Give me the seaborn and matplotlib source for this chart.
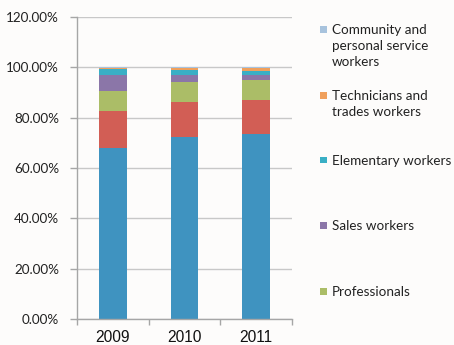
import matplotlib
matplotlib.use("Agg")
import matplotlib.pyplot as plt
from matplotlib.patches import Rectangle
from matplotlib.ticker import FuncFormatter, FixedLocator
import numpy as np
import pandas as pd
import seaborn as sns

years = ["2009", "2010", "2011"]
# Stack order bottom -> top
series_names = [
    "Series A",
    "Series B",
    "Professionals",
    "Sales workers",
    "Elementary workers",
    "Technicians and trades workers",
    "Community and personal service workers",
]
series_a = [68.1, 72.5, 73.7]
series_b = [14.7, 13.9, 13.3]
professionals = [7.8, 7.7, 7.9]
sales = [6.2, 2.7, 2.1]
elementary = [2.4, 2.2, 1.7]
technicians = [0.6, 0.8, 1.1]
community = [0.2, 0.2, 0.2]
colors = ["#3f93c0", "#d25e55", "#abbd67", "#8b76a8", "#3aafc5", "#f0a05c", "#a8c3dd"]

legend_labels = [
    "Community and\npersonal service\nworkers",
    "Technicians and\ntrades workers",
    "Elementary workers",
    "Sales workers",
    "Professionals",
]
legend_colors = ["#a8c3dd", "#f0a05c", "#3aafc5", "#8b76a8", "#abbd67"]

values = [series_a, series_b, professionals, sales, elementary, technicians, community]
cum = np.cumsum(np.array(values), axis=0)

W, H = 454, 345
fig = plt.figure(figsize=(W / 100, H / 100), dpi=100)
bg = "#fdfcfb"
fig.patch.set_facecolor(bg)
ax = fig.add_axes([77 / W, 1 - 319 / H, (292 - 77) / W, (319 - 17) / H])
ax.set_facecolor(bg)

# draw cumulative totals from top down so each segment shows
for i in range(len(values) - 1, -1, -1):
    df = pd.DataFrame({"year": years, "value": cum[i]})
    sns.barplot(data=df, x="year", y="value", color=colors[i], width=0.39,
                saturation=1, ax=ax, zorder=2, edgecolor="none", linewidth=0)

ax.set_ylim(0, 120)
ax.set_xlim(-0.5, 2.5)
ax.set_yticks(np.arange(0, 121, 20))
ax.yaxis.set_major_formatter(FuncFormatter(lambda v, p: f"{v:.2f}%"))
ax.grid(axis="y", color="#c8c8c8", linewidth=1, zorder=0)
ax.set_axisbelow(True)
ax.set_xlabel("")
ax.set_ylabel("")
for s in ["top", "right"]:
    ax.spines[s].set_visible(False)
for s in ["left", "bottom"]:
    ax.spines[s].set_color("#a6a6a6")
    ax.spines[s].set_linewidth(1)

ax.tick_params(axis="y", length=5, width=1, color="#a6a6a6", pad=8)
ax.tick_params(axis="x", which="major", length=0, pad=8)
ax.xaxis.set_minor_locator(FixedLocator([-0.5, 0.5, 1.5, 2.5]))
ax.tick_params(axis="x", which="minor", length=4, width=1, color="#a6a6a6")

for lab in ax.get_yticklabels():
    lab.set_fontfamily("Lato")
    lab.set_fontsize(9.7)
    lab.set_color("#222222")
for lab in ax.get_xticklabels():
    lab.set_fontfamily("Liberation Sans")
    lab.set_fontsize(11.2)
    lab.set_color("#111111")

# legend (Excel style: square aligned with first text line)
first_line_centers = [29, 95, 160, 225, 291]
for lab, col, yc in zip(legend_labels, legend_colors, first_line_centers):
    fig.patches.append(Rectangle((320 / W, 1 - (yc + 3.5) / H), 6.5 / W, 6.5 / H,
                                 transform=fig.transFigure, facecolor=col,
                                 edgecolor="none"))
    fig.text(332 / W, 1 - (yc - 5) / H, lab, ha="left", va="top",
             fontfamily="Lato", fontsize=9.7, color="#222222", linespacing=1.38)

fig.savefig("out.png", dpi=100, facecolor=bg)
